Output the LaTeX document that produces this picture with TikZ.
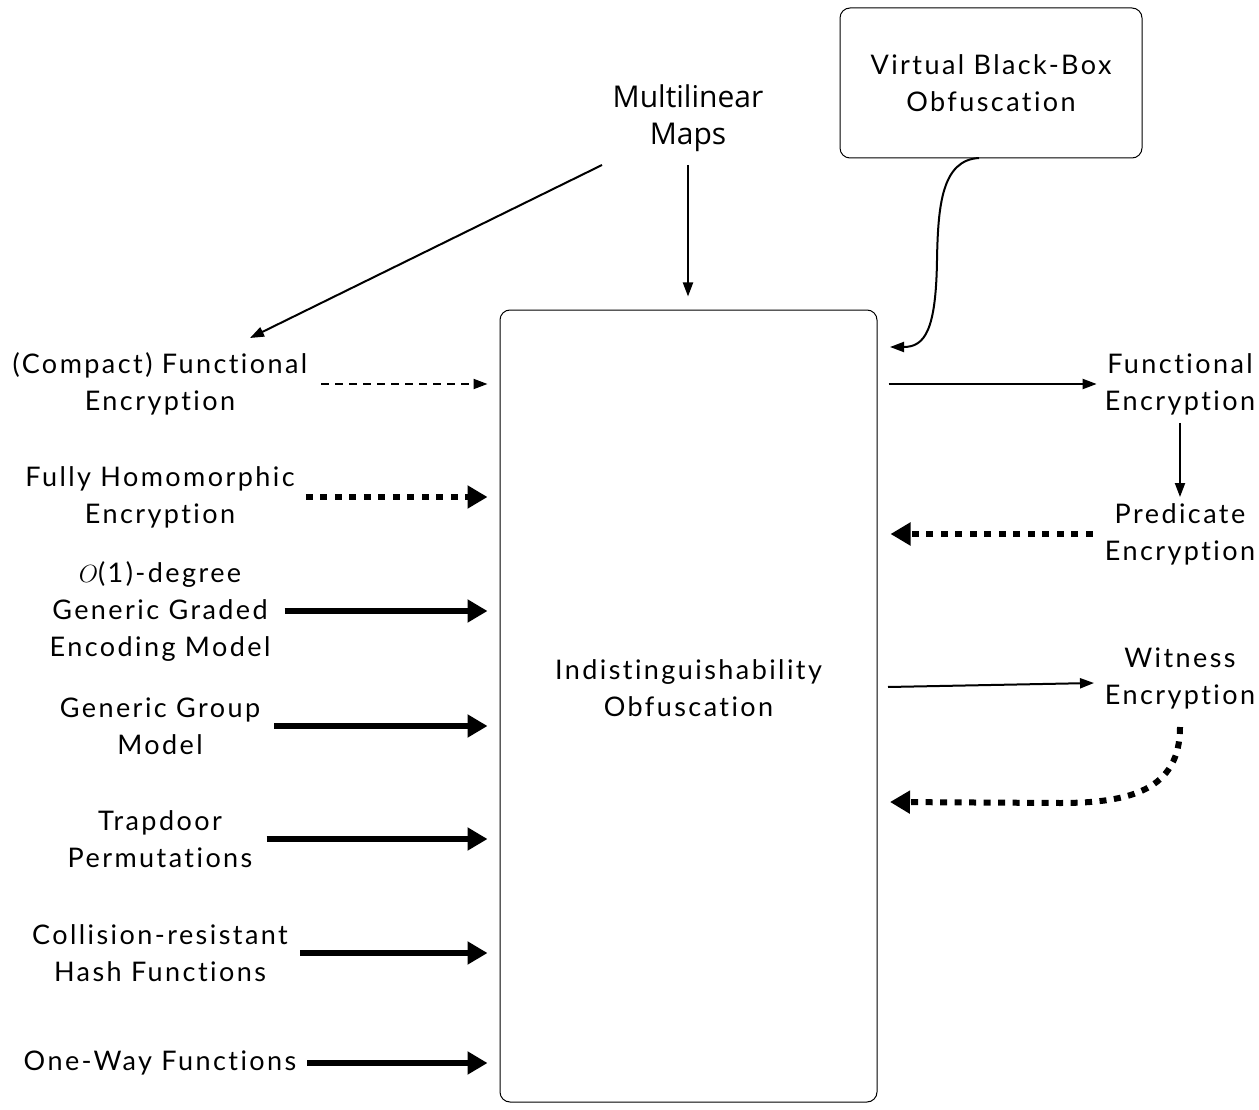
\documentclass[tikz,border=0pt]{standalone}
\usepackage{fontspec}
\setmainfont{Lato}[LetterSpace=9, Ligatures={NoCommon,NoRequired,NoContextual}]
\newfontfamily\mapsfont{Open Sans}
\usetikzlibrary{arrows.meta,calc}

\tikzset{
  lbl/.style={align=center, font=\fontsize{27}{37}\selectfont, inner sep=0pt},
  thin arrow/.style={line width=2pt, -{Triangle[length=14pt,width=10pt]}},
  thick arrow/.style={line width=5.5pt, -{Triangle[length=20pt,width=22pt]}},
  dash arrow/.style={thin arrow, dash pattern=on 8pt off 6pt},
  dot arrow/.style={line width=6pt, dash pattern=on 7pt off 7.5pt, -{Triangle[length=20pt,width=22pt]}},
  box/.style={draw, line width=1pt, rounded corners=10pt}
}

\begin{document}
\begin{tikzpicture}[x=1pt, y=-1pt]
\useasboundingbox (0,0) rectangle (1259,1110);

% central box with its caption placed above the middle
\node[box, minimum width=377pt, minimum height=792pt,
      label={[lbl, yshift=18pt]center:{Indistinguishability\\Obfuscation}}] (io) at (688.5,706) {};

% top box
\node[box, minimum width=302pt, minimum height=150pt, lbl] (vbb) at (991,83)
  {Virtual Black-Box\\Obfuscation};

% top label
\node[lbl, font=\mapsfont\fontsize{30}{37}\selectfont] (mm) at (688,118) {Multilinear\\Maps};

% left column
\node[lbl] (cfe) at (160,384) {(Compact) Functional\\Encryption};
\node[lbl] (fhe) at (160,497) {Fully Homomorphic\\Encryption};
\node[lbl] (gge) at (160,611) {$O$(1)-degree\\Generic Graded\\Encoding Model};
\node[lbl] (ggm) at (160,726) {Generic Group\\Model};
\node[lbl] (tdp) at (160,839) {Trapdoor\\Permutations};
\node[lbl] (crh) at (160,953) {Collision-resistant\\Hash Functions};
\node[lbl] (owf) at (160,1063) {One-Way Functions};

% right column
\node[lbl] (fe) at (1180,384) {Functional\\Encryption};
\node[lbl] (pe) at (1180,534) {Predicate\\Encryption};
\node[lbl] (we) at (1180,678) {Witness\\Encryption};

% helper points
\coordinate (mmL) at (602,165);
\coordinate (mmD) at (688,165);
\coordinate (cfeT) at (250,338);
\coordinate (vbbS) at (979,158);
\coordinate (vbbV) at (937,260);
\coordinate (ioV) at (890,347);
\coordinate (weS) at (1180,727);
\coordinate (weB) at (1060,803);
\coordinate (ioW) at (890,802);
\coordinate (weOut) at (888,687);
\coordinate (weIn) at (1094,683);

% arrows from multilinear maps
\draw[thin arrow] (mmL) -- (cfeT);
\draw[thin arrow, shorten >=13pt] (mmD) -- (mmD |- io.north);

% left arrows into the central box
\draw[dash arrow, shorten <=14pt, shorten >=12pt] (cfe.east) -- (cfe.east -| io.west);
\draw[dot arrow, shorten <=11pt, shorten >=12pt] (fhe.east) -- (fhe.east -| io.west);
\draw[thick arrow, shorten <=14pt, shorten >=12pt] (gge.east) -- (gge.east -| io.west);
\draw[thick arrow, shorten <=14pt, shorten >=12pt] (ggm.east) -- (ggm.east -| io.west);
\draw[thick arrow, shorten <=14pt, shorten >=12pt] (tdp.east) -- (tdp.east -| io.west);
\draw[thick arrow, shorten <=12pt, shorten >=12pt] (crh.east) -- (crh.east -| io.west);
\draw[thick arrow, shorten <=11pt, shorten >=12pt] (owf.east) -- (owf.east -| io.west);

% right arrows
\draw[thin arrow, shorten <=11pt, shorten >=8pt] (fe.west -| io.east) -- (fe.west);
\draw[thin arrow, shorten <=8pt, shorten >=6pt] (fe.south) -- (pe.north);
\draw[dot arrow, shorten <=12pt, shorten >=13pt] (pe.west) -- (pe.west -| io.east);
\draw[thin arrow] (weOut) -- (weIn);
\draw[dot arrow] (weS) .. controls (1180,790) and (1130,803) .. (weB) -- (ioW);

% curved arrow from the top box
\draw[thin arrow] (vbbS) .. controls (942,160) and (938,205) .. (vbbV)
  .. controls (936,330) and (925,347) .. (ioV);
\end{tikzpicture}
\end{document}
